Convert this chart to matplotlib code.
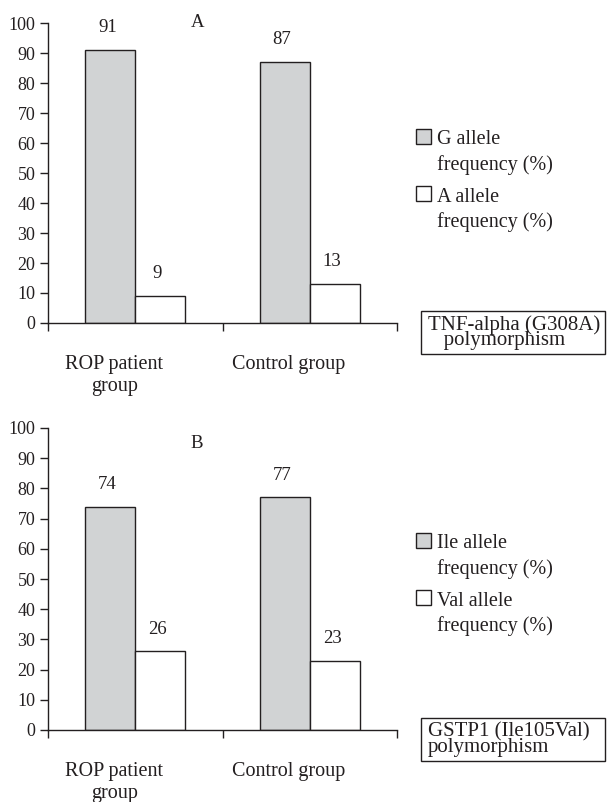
import numpy as np
import matplotlib
matplotlib.use('Agg')
import matplotlib.pyplot as plt
from matplotlib.patches import Rectangle

# allele frequencies (%)
groups = ['ROP patient\ngroup', 'Control group']
tnf_g = [91, 87]
tnf_a = [9, 13]
gstp_ile = [74, 77]
gstp_val = [26, 23]

plt.rcParams['font.family'] = ['Liberation Serif', 'DejaVu Serif']
plt.rcParams['font.size'] = 13
ink = '#231f20'
gray = '#d1d3d4'
plt.rcParams['text.color'] = ink
plt.rcParams['xtick.color'] = ink
plt.rcParams['ytick.color'] = ink
plt.rcParams['xtick.labelcolor'] = ink
plt.rcParams['ytick.labelcolor'] = ink

W, H = 608, 802
fig = plt.figure(figsize=(W / 100, H / 100), dpi=100)


def px(x, y):
    return x / W, 1 - y / H


def panel(top, bottom, v1, v2, letter, letter_y):
    ax = fig.add_axes([48 / W, 1 - bottom / H, 349 / W, (bottom - top) / H])
    x = np.arange(len(groups)) + 0.5
    w = 0.287
    ax.bar(x - w / 2, v1, w, color=gray, edgecolor=ink, linewidth=1)
    ax.bar(x + w / 2, v2, w, color='white', edgecolor=ink, linewidth=1)
    for xs, vs in ((x - w / 2, v1), (x + w / 2, v2)):
        for xi, v in zip(xs, vs):
            ax.annotate(str(v), (xi, v), xytext=(-2, 16), textcoords='offset points',
                        ha='center', va='center', fontsize=13.5)
    ax.set_xlim(0, 2)
    ax.set_ylim(0, 100)
    ax.set_yticks(range(0, 101, 10))
    ax.set_xticks([0, 1, 2])
    ax.set_xticklabels([])
    ax.set_xticks(x - 0.12, groups, minor=True, fontsize=14.5)
    ax.tick_params(axis='x', which='major', length=6, width=1)
    ax.tick_params(axis='x', which='minor', length=0, pad=23)
    ax.tick_params(axis='y', length=6, width=1, pad=3)
    for s in ['top', 'right']:
        ax.spines[s].set_visible(False)
    for s in ['left', 'bottom']:
        ax.spines[s].set_color(ink)
        ax.spines[s].set_linewidth(1)
    ax.text(0.855, letter_y, letter, ha='center', va='center', fontsize=13.5)
    return ax


def legend(y0, labels, box_y, box_text):
    fills = [gray, 'white']
    for i, lab in enumerate(labels):
        ys = y0 + i * 57
        fig.add_artist(Rectangle(px(416, ys + 15), 15 / W, 15 / H, transform=fig.transFigure,
                                 facecolor=fills[i], edgecolor=ink, linewidth=1))
        fig.text(*px(437, ys + 11), lab, ha='left', va='center', fontsize=14.5)
        fig.text(*px(437, ys + 36), 'frequency (%)', ha='left', va='center', fontsize=14.5)
    fig.add_artist(Rectangle(px(421, box_y + 43), 184 / W, 43 / H, transform=fig.transFigure,
                             facecolor='none', edgecolor=ink, linewidth=1))
    fig.text(*px(428, box_y + 21.5), box_text, ha='left', va='center', fontsize=15,
             linespacing=0.72)


panel(23, 323, tnf_g, tnf_a, 'A', 100.3)
panel(428, 730, gstp_ile, gstp_val, 'B', 95)

legend(129, ['G allele', 'A allele'], 311, 'TNF-alpha (G308A)\n   polymorphism')
legend(533, ['Ile allele', 'Val allele'], 718, 'GSTP1 (Ile105Val)\npolymorphism')

fig.savefig('out.png', dpi=100)
